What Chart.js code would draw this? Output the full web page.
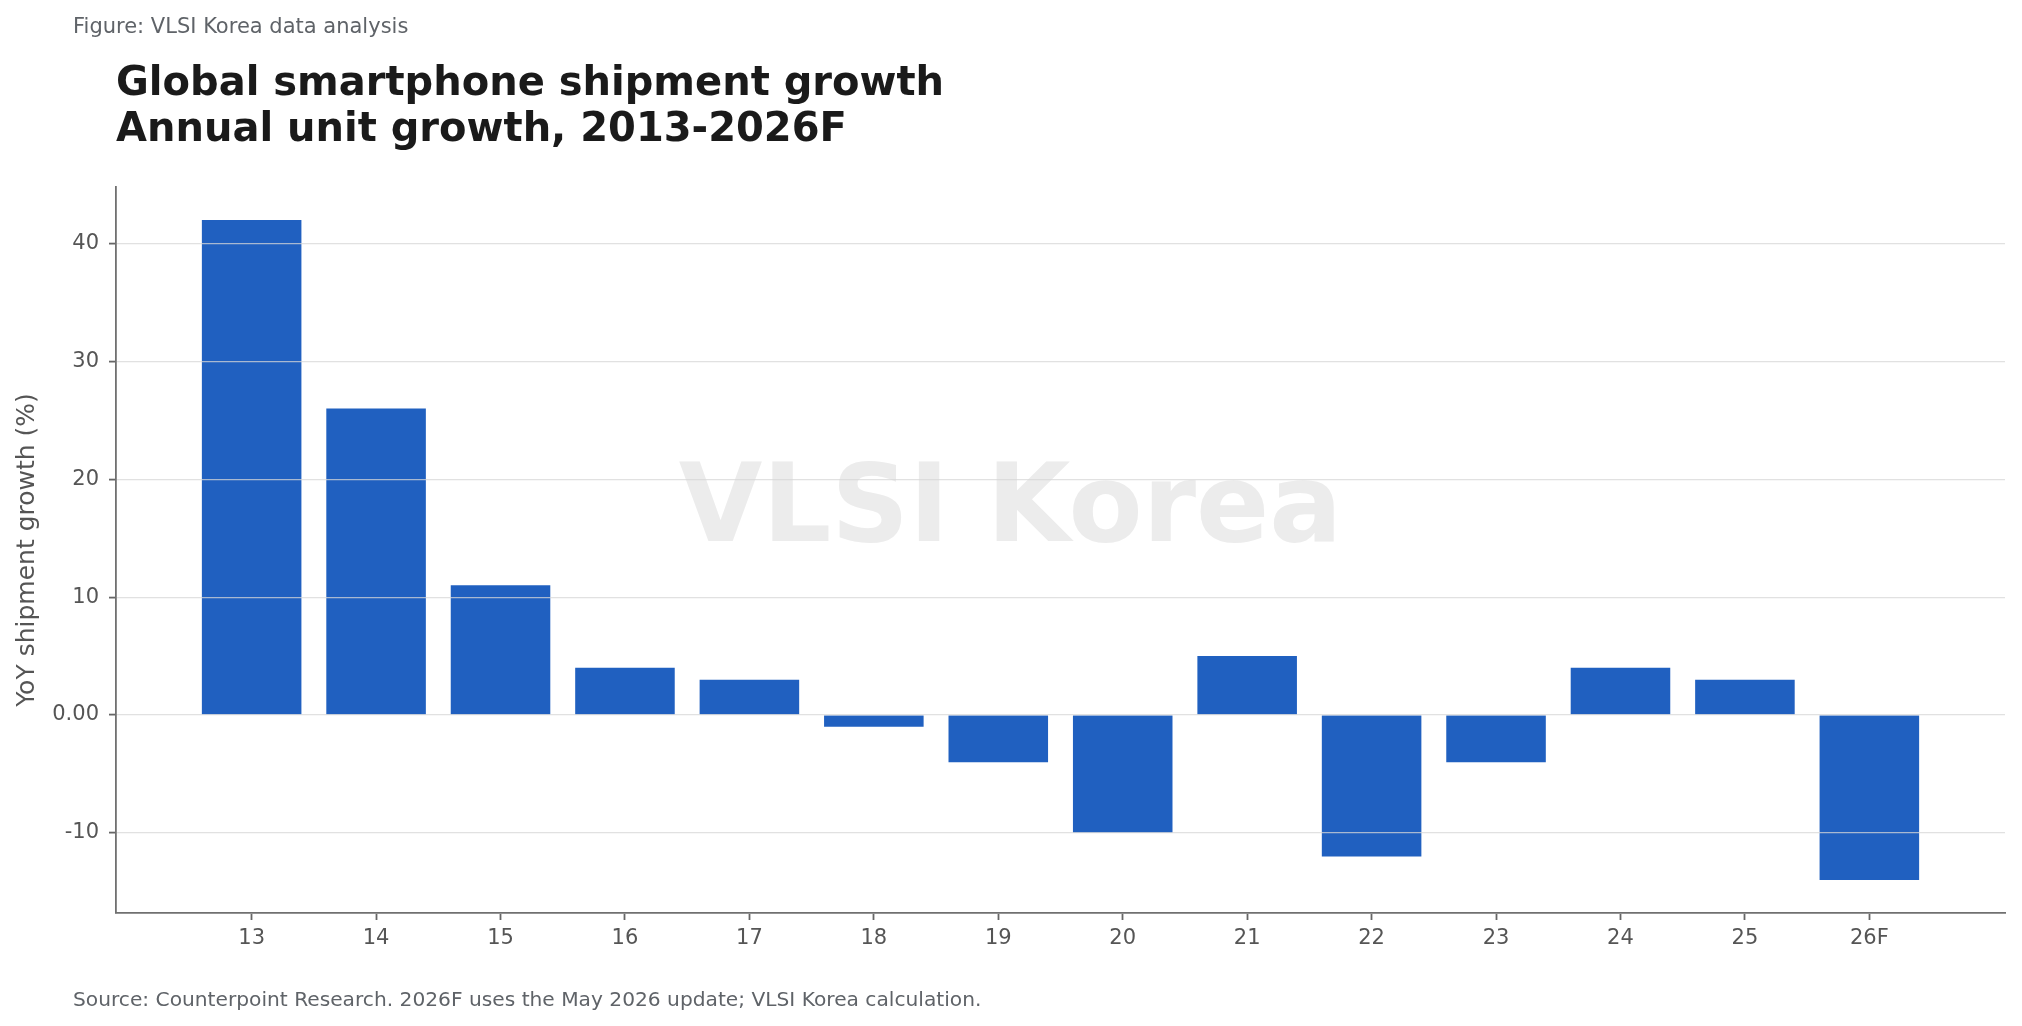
<!DOCTYPE html>
<html>
<head>
<meta charset="utf-8">
<script src="https://cdn.jsdelivr.net/npm/chart.js@4.4.1/dist/chart.umd.min.js"></script>
<style>
  html, body { margin:0; padding:0; background:#fff; }
  #wrap { position:relative; width:2022px; height:1026px; overflow:hidden; font-family:"DejaVu Sans", sans-serif; }
  #fig { position:absolute; left:73px; top:13px; font-size:21px; color:#5f6368; line-height:26px; white-space:nowrap; }
  #title { position:absolute; left:116px; top:58px; font-size:40px; font-weight:bold; color:#1a1a1a; line-height:46px; white-space:nowrap; }
  #src { position:absolute; left:73px; top:986px; font-size:20.2px; color:#5f6368; line-height:26px; white-space:nowrap; }
  canvas { position:absolute; left:0; top:0; }
</style>
</head>
<body>
<div id="wrap">
  <canvas id="c" width="2022" height="1026"></canvas>
  <div id="fig">Figure: VLSI Korea data analysis</div>
  <div id="title">Global smartphone shipment growth<br>Annual unit growth, 2013-2026F</div>
  <div id="src">Source: Counterpoint Research. 2026F uses the May 2026 update; VLSI Korea calculation.</div>
</div>
<script>
const categories = ['13','14','15','16','17','18','19','20','21','22','23','24','25','26F'];
const growth = [42, 26, 11, 4, 3, -1, -4, -10, 5, -12, -4, 4, 3, -14];
const yTicks = [-10, 0, 10, 20, 30, 40];
const yLabel = 'YoY shipment growth (%)';
const watermark = 'VLSI Korea';

const FONT = '"DejaVu Sans", sans-serif';

const watermarkPlugin = {
  id: 'wm',
  beforeDatasetsDraw(chart) {
    const {ctx, chartArea} = chart;
    ctx.save();
    ctx.font = 'bold 108px ' + FONT;
    ctx.fillStyle = '#ececec';
    ctx.textAlign = 'center';
    ctx.textBaseline = 'middle';
    ctx.fillText(watermark, (chartArea.left + chartArea.right) / 2 - 50, (chartArea.top + chartArea.bottom) / 2 - 37);
    ctx.restore();
  }
};

new Chart(document.getElementById('c'), {
  type: 'bar',
  data: {
    datasets: [{
      data: categories.map((c, i) => ({x: i, y: growth[i]})),
      backgroundColor: '#2060c0',
      borderWidth: 0,
      barPercentage: 0.8,
      categoryPercentage: 1.0
    }]
  },
  options: {
    responsive: false,
    animation: false,
    devicePixelRatio: 1,
    layout: { padding: { left: 0, top: 187, right: 17, bottom: 0 } },
    plugins: { legend: { display: false }, tooltip: { enabled: false }, title: { display: false } },
    scales: {
      x: {
        type: 'linear',
        offset: false,
        min: -1.09,
        max: categories.length - 1 + 1.09,
        afterBuildTicks(scale) { scale.ticks = categories.map((c, i) => ({value: i})); },
        afterFit(scale) { scale.height = 113; },
        ticks: {
          autoSkip: false,
          maxRotation: 0,
          padding: 6,
          color: '#555555',
          font: { family: FONT, size: 21 },
          callback: (v) => categories[v]
        },
        grid: { offset: false, drawOnChartArea: false, drawTicks: true, tickLength: 7, tickColor: '#666666', tickWidth: 1.8 },
        border: { display: true, color: '#707070', width: 1.8 }
      },
      y: {
        min: -16.8,
        max: 44.8,
        afterBuildTicks(scale) { scale.ticks = yTicks.map(v => ({value: v})); },
        afterFit(scale) { scale.width = 116; },
        ticks: {
          padding: 10,
          color: '#555555',
          font: { family: FONT, size: 21 },
          callback: (v) => v === 0 ? '0.00' : String(v)
        },
        title: {
          display: true,
          text: yLabel,
          color: '#555555',
          font: { family: FONT, size: 25 },
          padding: { top: 12, bottom: 0 }
        },
        grid: { z: 1, color: 'rgba(215,215,215,0.75)', lineWidth: 1.2, drawTicks: true, tickLength: 7, tickColor: '#666666', tickWidth: 1.8 },
        border: { display: true, color: '#707070', width: 1.8, z: 2 }
      }
    }
  },
  plugins: [watermarkPlugin]
});
</script>
</body>
</html>
